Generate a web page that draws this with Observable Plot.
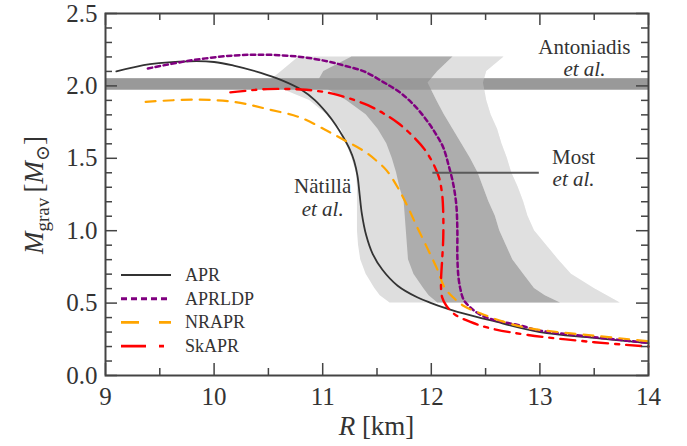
<!DOCTYPE html>
<html>
<head>
<meta charset="utf-8">
<script src="https://cdn.jsdelivr.net/npm/d3@7"></script>
<script src="https://cdn.jsdelivr.net/npm/@observablehq/plot@0.6"></script>
<style>
  html, body { margin: 0; padding: 0; background: #fff; }
</style>
</head>
<body>
<div id="chart"></div>
<script>
// Mass–radius curves, [R (km), M_grav (M_sun)]
const apr = [
  [9.10, 2.10], [9.41, 2.15], [9.78, 2.17], [10.0, 2.165], [10.18, 2.14], [10.43, 2.09],
  [10.62, 2.04], [10.80, 1.975], [10.93, 1.90], [11.04, 1.81], [11.12, 1.73], [11.19, 1.645],
  [11.25, 1.56], [11.29, 1.48], [11.32, 1.38], [11.34, 1.25], [11.36, 1.12], [11.40, 0.97],
  [11.46, 0.84], [11.55, 0.73], [11.69, 0.62], [11.87, 0.54], [12.0, 0.50], [12.11, 0.47],
  [12.24, 0.44], [12.55, 0.38], [13.0, 0.30], [13.5, 0.26], [14.0, 0.223]
];
const aprldp = [
  [9.39, 2.12], [9.78, 2.175], [10.18, 2.21], [10.49, 2.215], [10.80, 2.20], [11.04, 2.17],
  [11.20, 2.14], [11.38, 2.10], [11.55, 2.03], [11.72, 1.95], [11.85, 1.86], [11.96, 1.76],
  [12.04, 1.67], [12.11, 1.575], [12.16, 1.45], [12.20, 1.33], [12.23, 1.18], [12.24, 1.00],
  [12.24, 0.82], [12.25, 0.68], [12.27, 0.59], [12.30, 0.52], [12.36, 0.47], [12.45, 0.42],
  [12.57, 0.385], [12.82, 0.345], [13.0, 0.31], [13.5, 0.265], [14.0, 0.225]
];
const nrapr = [
  [9.37, 1.89], [9.81, 1.905], [10.18, 1.89], [10.49, 1.84], [10.80, 1.78], [11.04, 1.69],
  [11.20, 1.625], [11.38, 1.55], [11.50, 1.48], [11.59, 1.415], [11.69, 1.30], [11.78, 1.17],
  [11.86, 1.04], [11.96, 0.885], [12.06, 0.725], [12.12, 0.61], [12.20, 0.54], [12.30, 0.48],
  [12.45, 0.43], [12.67, 0.37], [12.91, 0.325], [13.5, 0.275], [14.0, 0.237]
];
const skapr = [
  [10.15, 1.955], [10.49, 1.978], [10.80, 1.975], [10.95, 1.965], [11.10, 1.945], [11.26, 1.91],
  [11.42, 1.865], [11.56, 1.81], [11.70, 1.74], [11.84, 1.645], [11.94, 1.56], [12.02, 1.46],
  [12.07, 1.37], [12.10, 1.25], [12.11, 1.12], [12.11, 0.95], [12.10, 0.80], [12.09, 0.67],
  [12.09, 0.60], [12.10, 0.54], [12.14, 0.48], [12.22, 0.42], [12.36, 0.37], [12.55, 0.325],
  [12.89, 0.28], [13.5, 0.23], [14.0, 0.20]
];

// Radius constraint bands: mass levels and band edges (km)
const bandMass   = [0.50, 0.55, 0.60, 0.70, 0.80, 0.90, 1.00, 1.10, 1.20, 1.30, 1.40, 1.50, 1.60, 1.70, 1.80, 1.90, 2.02, 2.10, 2.20];
const outerLeft  = [11.62, 11.53, 11.48, 11.40, 11.35, 11.33, 11.32, 11.32, 11.32, 11.32, 11.31, 11.27, 11.22, 11.17, 11.04, 10.88, 10.49, 10.62, 10.78];
const innerLeft  = [12.06, 11.98, 11.93, 11.84, 11.79, 11.78, 11.77, 11.76, 11.75, 11.71, 11.68, 11.64, 11.59, 11.51, 11.40, 11.22, 10.95, 11.01, 11.27];
const innerRight = [13.19, 13.05, 12.95, 12.85, 12.75, 12.69, 12.63, 12.59, 12.53, 12.48, 12.43, 12.36, 12.28, 12.20, 12.12, 12.05, 11.97, 12.06, 12.20];
const outerRight = [13.74, 13.62, 13.50, 13.29, 13.17, 13.06, 12.95, 12.89, 12.85, 12.80, 12.74, 12.70, 12.65, 12.61, 12.55, 12.51, 12.48, 12.51, 12.67];

// Antoniadis et al. pulsar mass: 2.01 ± 0.04
const antoniadisMass = [2.01];
const antoniadisErr = [0.04];

// Annotation labels (data coordinates)
const labelNames = ["Antoniadis", "Most", "Nätillä"];
const labelR     = [13.41, 13.31, 11.00];
const labelM     = [2.27, 1.51, 1.31];
const etAlM      = [2.118, 1.358, 1.151];
const mostPointer = {r1: 12.01, r2: 12.99, m: 1.40};

// Axis ticks
const xMajor = [9, 10, 11, 12, 13, 14];
const xMinor = [9.5, 10.5, 11.5, 12.5, 13.5];
const yMajor = [0, 0.5, 1.0, 1.5, 2.0, 2.5];
const yMinor = [0.1, 0.2, 0.3, 0.4, 0.6, 0.7, 0.8, 0.9, 1.1, 1.2, 1.3, 1.4, 1.6, 1.7, 1.8, 1.9, 2.1, 2.2, 2.3, 2.4];

const seriesNames = ["APR", "APRLDP", "NRAPR", "SkAPR"];
const seriesData = [apr, aprldp, nrapr, skapr];

// Line styles (curve dashes, then the longer legend-sample dashes)
const lineStyle = {
  APR:    {stroke: "#333333", strokeWidth: 1.8, dash: null,        legendDash: null},
  APRLDP: {stroke: "#800080", strokeWidth: 2.5, dash: "4.5,3.5",   legendDash: "6,4"},
  NRAPR:  {stroke: "#FFA500", strokeWidth: 2.2, dash: "10,8",      legendDash: "18,20"},
  SkAPR:  {stroke: "#FF0000", strokeWidth: 2.4, dash: "15,7,4,7",  legendDash: "25,13,5,13"}
};

const FONT = "'Liberation Serif', 'DejaVu Serif', serif";
const TEXT = "#333";

const M = {top: 13, right: 39, bottom: 71, left: 105};
const W = 687, H = 446;
const plotW = W - M.left - M.right;
const plotH = H - M.top - M.bottom;
const majorLen = 12, minorLen = 7;

const bandRows = bandMass.map((m, i) => ({
  m, ol: outerLeft[i], il: innerLeft[i], ir: innerRight[i], or: outerRight[i]
}));
const labelRows = labelNames.map((name, i) => ({name, r: labelR[i], m: labelM[i], me: etAlM[i]}));
const antoRows = antoniadisMass.map((m, i) => ({lo: m - antoniadisErr[i], hi: m + antoniadisErr[i]}));

const xDomain = [9, 14];

const curveMarks = seriesNames.map((name, i) => {
  const s = lineStyle[name];
  return Plot.line(seriesData[i], {
    x: d => d[0], y: d => d[1],
    stroke: s.stroke, strokeWidth: s.strokeWidth,
    strokeDasharray: s.dash || undefined,
    curve: "catmull-rom"
  });
});

const chart = Plot.plot({
  width: W, height: H,
  marginTop: M.top, marginRight: M.right, marginBottom: M.bottom, marginLeft: M.left,
  x: {domain: xDomain},
  y: {domain: [0, 2.5]},
  style: {fontFamily: FONT, color: TEXT, background: "#fff"},
  marks: [
    // outer and inner radius bands
    Plot.areaX(bandRows, {y: "m", x1: "ol", x2: "or", fill: "#dedede", curve: "linear"}),
    Plot.areaX(bandRows, {y: "m", x1: "il", x2: "ir", fill: "#adadad", curve: "linear"}),
    // pulsar mass band across the whole radius range
    Plot.rect(antoRows, {x1: () => xDomain[0], x2: () => xDomain[1], y1: "lo", y2: "hi", fill: "#999"}),
    // translucent outer strip on the right, drawn over the pulsar band
    Plot.areaX(bandRows, {y: "m", x1: "ir", x2: "or", fill: "#e4e4e4", fillOpacity: 0.3, curve: "linear"}),
    ...curveMarks,
    Plot.link([mostPointer], {x1: "r1", x2: "r2", y1: "m", y2: "m", stroke: "#5a5a5a", strokeWidth: 2}),
    Plot.text(labelRows, {x: "r", y: "m", text: "name", fontSize: 21, fill: TEXT}),
    Plot.text(labelRows, {x: "r", y: "me", text: () => "et al.", fontSize: 21, fontStyle: "italic", fill: TEXT}),
    // inward ticks on all four sides
    Plot.ruleX(xMajor, {stroke: "#444", strokeWidth: 1.5, insetTop: plotH - majorLen}),
    Plot.ruleX(xMajor, {stroke: "#444", strokeWidth: 1.5, insetBottom: plotH - majorLen}),
    Plot.ruleX(xMinor, {stroke: "#444", strokeWidth: 1.5, insetTop: plotH - minorLen}),
    Plot.ruleX(xMinor, {stroke: "#444", strokeWidth: 1.5, insetBottom: plotH - minorLen}),
    Plot.ruleY(yMajor, {stroke: "#444", strokeWidth: 1.5, insetRight: plotW - majorLen}),
    Plot.ruleY(yMajor, {stroke: "#444", strokeWidth: 1.5, insetLeft: plotW - majorLen}),
    Plot.ruleY(yMinor, {stroke: "#444", strokeWidth: 1.5, insetRight: plotW - minorLen}),
    Plot.ruleY(yMinor, {stroke: "#444", strokeWidth: 1.5, insetLeft: plotW - minorLen}),
    Plot.frame({stroke: "#444", strokeWidth: 2}),
    Plot.axisX({ticks: xMajor, tickSize: 0, tickPadding: 12, fontSize: 25, tickFormat: d => String(d), label: null, fill: TEXT}),
    Plot.axisY({ticks: yMajor, tickSize: 0, tickPadding: 8, fontSize: 25, tickFormat: d3.format(".1f"), label: null, fill: TEXT})
  ]
});

document.getElementById("chart").appendChild(chart);

// Legend and axis titles
const svg = d3.select(chart);
const legend = svg.append("g")
  .attr("font-family", FONT).attr("font-size", 18).attr("fill", TEXT)
  .attr("text-anchor", "start");
seriesNames.forEach((name, i) => {
  const s = lineStyle[name];
  const yy = 275 + i * 23.7;
  legend.append("line")
    .attr("x1", 121).attr("x2", 171).attr("y1", yy).attr("y2", yy)
    .attr("stroke", s.stroke).attr("stroke-width", s.strokeWidth + 0.4)
    .attr("stroke-dasharray", s.legendDash);
  legend.append("text").attr("x", 185).attr("y", yy + 6).text(name);
});

const yl = svg.append("text")
  .attr("transform", "translate(43,195) rotate(-90)")
  .attr("text-anchor", "middle")
  .attr("font-family", FONT).attr("font-size", 27).attr("fill", TEXT);
yl.append("tspan").attr("font-style", "italic").text("M");
yl.append("tspan").attr("font-size", 19).attr("dy", 6).text("grav");
yl.append("tspan").attr("dy", -6).text("\u2009[");
yl.append("tspan").attr("font-style", "italic").text("M");
yl.append("tspan").attr("font-size", 19).attr("dy", 6).text("\u2299");
yl.append("tspan").attr("dy", -6).text("]");

const xl = svg.append("text")
  .attr("x", M.left + plotW / 2).attr("y", 435)
  .attr("text-anchor", "middle")
  .attr("font-family", FONT).attr("font-size", 27).attr("fill", TEXT);
xl.append("tspan").attr("font-style", "italic").text("R");
xl.append("tspan").text(" [km]");
</script>
</body>
</html>
